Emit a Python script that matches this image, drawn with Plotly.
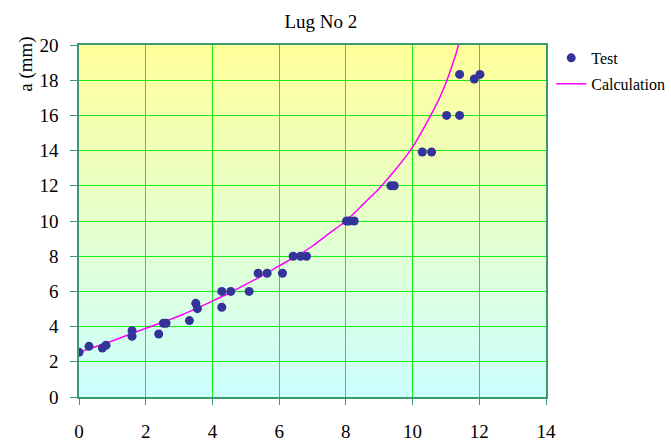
import plotly.graph_objects as go

# Measured crack length vs cycles
test_x = [0, 0.3, 0.70, 0.81, 1.59, 1.59, 2.39, 2.53, 2.61, 3.31, 3.50, 3.55,
          4.28, 4.28, 4.55, 5.10, 5.37, 5.64, 6.10, 6.42, 6.64, 6.82,
          8.02, 8.10, 8.25, 9.35, 9.45, 10.29, 10.57, 11.02, 11.41, 11.41, 11.85, 12.02]
test_y = [2.54, 2.88, 2.78, 2.94, 3.77, 3.45, 3.58, 4.19, 4.19, 4.34, 5.32, 5.02,
          5.10, 6.0, 6.0, 6.0, 7.03, 7.03, 7.03, 8.0, 8.0, 8.0,
          10.0, 10.0, 10.0, 12.0, 12.0, 13.92, 13.92, 16.0, 16.0, 18.33, 18.07, 18.33]

# Predicted crack growth curve
calc_x = [0, 0.8, 1.6, 2.5, 3.0, 4.0, 4.55, 5.0, 5.4, 6.0, 6.65, 7.0, 7.5,
          8.0, 8.6, 9.0, 9.5, 10.0, 10.5, 10.8, 11.0, 11.2, 11.38, 11.5]
calc_y = [2.54, 3.05, 3.62, 4.25, 4.6, 5.45, 5.95, 6.4, 6.8, 7.45, 8.15, 8.58, 9.3,
          10.0, 11.1, 11.85, 12.95, 14.2, 15.85, 16.95, 17.85, 18.9, 20.0, 20.9]

x_ticks = [0, 2, 4, 6, 8, 10, 12, 14]
y_ticks = [0, 2, 4, 6, 8, 10, 12, 14, 16, 18, 20]

FONT = "Liberation Serif, Times New Roman, serif"
AXIS_COL = "#3c9a6e"
GRID_COL = "#14ee14"

fig = go.Figure()
fig.add_trace(go.Scatter(
    x=calc_x, y=calc_y, mode="lines", name="Calculation",
    line=dict(color="#ff00ff", width=1.5, shape="spline", smoothing=0.8),
    legendgroup="calc", legendrank=2,
))
fig.add_trace(go.Scatter(
    x=test_x, y=test_y, mode="markers", name="Test",
    marker=dict(color="#333399", size=9),
    legendgroup="test", legendrank=1,
))

# vertical yellow-to-cyan background wash inside the plot area
n = 80
top = (255, 255, 153)
bot = (204, 255, 255)
shapes = []
for i in range(n):
    t = (i + 0.5) / n
    c = tuple(round(bot[k] + (top[k] - bot[k]) * t) for k in range(3))
    shapes.append(dict(
        type="rect", xref="x domain", yref="y domain",
        x0=0, x1=1, y0=i / n, y1=(i + 1) / n + 0.002,
        fillcolor="rgb(%d,%d,%d)" % c, line=dict(width=0), layer="below",
    ))

fig.update_layout(
    template="none",
    width=671, height=445,
    margin=dict(l=79, r=125, t=45, b=48),
    paper_bgcolor="white", plot_bgcolor="rgba(0,0,0,0)",
    font=dict(family=FONT, color="black", size=19),
    shapes=shapes,
    title=dict(text="Lug No 2", x=0.518, xref="paper", y=0.952, yref="container",
               xanchor="center", yanchor="middle",
               font=dict(family=FONT, size=19, color="black")),
    showlegend=True,
    legend=dict(xref="container", yref="container", x=0.8215, y=0.908,
                xanchor="left", yanchor="top",
                font=dict(family=FONT, size=16, color="black"),
                traceorder="grouped", tracegroupgap=2,
                bgcolor="rgba(0,0,0,0)", borderwidth=0),
    annotations=[dict(text="a (mm)", xref="paper", yref="paper", x=-0.114, y=0.946,
                      textangle=-90, showarrow=False, xanchor="center", yanchor="middle",
                      font=dict(family=FONT, size=19, color="black"))],
)
fig.update_xaxes(
    range=[0, 14], tickvals=x_ticks, showgrid=True, gridcolor=GRID_COL, gridwidth=1,
    showline=True, linecolor=AXIS_COL, linewidth=1.5, mirror=True,
    ticks="outside", ticklen=6, tickcolor=AXIS_COL, tickwidth=1, ticklabelstandoff=10,
    tickfont=dict(family=FONT, size=19, color="black"),
    zeroline=False, automargin=False,
)
fig.update_yaxes(
    range=[0, 20], tickvals=y_ticks, showgrid=True, gridcolor=GRID_COL, gridwidth=1,
    showline=True, linecolor=AXIS_COL, linewidth=1.5, mirror=True,
    ticks="outside", ticklen=7, tickcolor=AXIS_COL, tickwidth=1, ticklabelstandoff=8,
    tickfont=dict(family=FONT, size=19, color="black"),
    zeroline=False, automargin=False,
)

fig.write_html("out.html")
